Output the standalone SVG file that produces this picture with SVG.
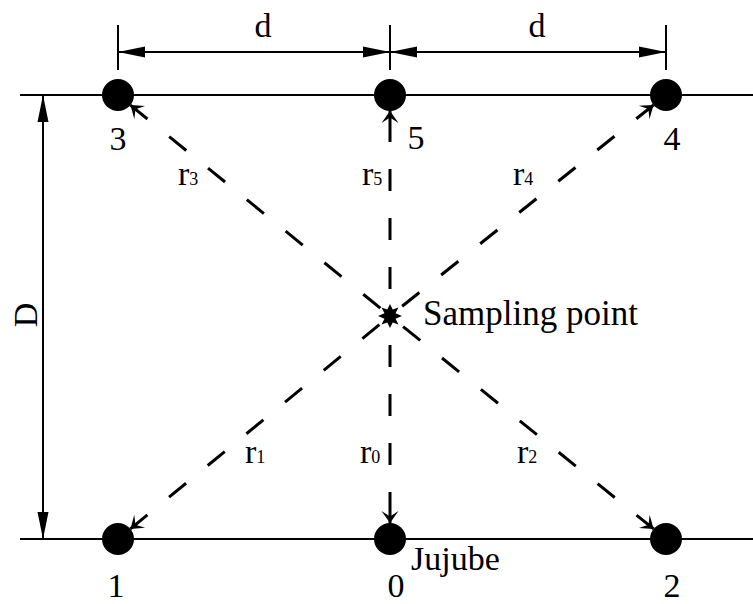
<svg xmlns="http://www.w3.org/2000/svg" width="753" height="604" viewBox="0 0 753 604" font-family="'Liberation Serif', 'DejaVu Serif', serif">
<style>
text{font-family:'Liberation Serif','DejaVu Serif',serif;font-size:34px;fill:#000}
.s{font-size:18px}
.ln{stroke:#000;stroke-width:2;fill:none}
.dim{stroke:#000;stroke-width:2;fill:none;marker-start:url(#da);marker-end:url(#da)}
.dash{stroke:#000;stroke-width:3;fill:none;marker-start:url(#ah);stroke-dasharray:22 28}
.dashv{stroke:#000;stroke-width:3;fill:none;marker-start:url(#ah);stroke-dasharray:31 27 22 27 22 27 22 27 22 27}
.dot{fill:#000}
</style>
<defs>
<marker id="da" markerUnits="userSpaceOnUse" markerWidth="30" markerHeight="14" viewBox="-28 -7 30 14" refX="0" refY="0" orient="auto-start-reverse" overflow="visible">
<path d="M0,0 L-27,-5.5 L-27,5.5 Z" fill="#000"/>
</marker>
<marker id="ah" markerUnits="userSpaceOnUse" markerWidth="14" markerHeight="20" viewBox="-12 -10 14 20" refX="0" refY="0" orient="auto-start-reverse" overflow="visible">
<path d="M0,0 L-12,-8.5 L-6.5,0 L-12,8.5 Z" fill="#000"/>
</marker>
</defs>

<g id="rows">
<line class="ln" x1="20" y1="95" x2="753" y2="95"/>
<line class="ln" x1="20" y1="539" x2="753" y2="539"/>
</g>

<g id="dimensions">
<line class="ln" x1="118" y1="25" x2="118" y2="70"/>
<line class="ln" x1="390" y1="25" x2="390" y2="70"/>
<line class="ln" x1="666" y1="25" x2="666" y2="70"/>
<line class="dim" x1="118" y1="52" x2="390" y2="52"/>
<line class="dim" x1="390" y1="52" x2="666" y2="52"/>
<line class="dim" x1="43" y1="95" x2="43" y2="539"/>
<text x="263" y="37" text-anchor="middle">d</text>
<text x="537" y="37" text-anchor="middle">d</text>
<text transform="translate(37,315) rotate(-90)" text-anchor="middle">D</text>
</g>

<g id="connectors">
<path class="dash" d="M130.4,105.1 L390,316"/>
<path class="dash" d="M653.5,105 L390,316"/>
<path class="dash" d="M130.4,528.9 L390,316"/>
<path class="dash" d="M653.6,528.9 L390,316"/>
<path class="dashv" d="M390,111 L390,316"/>
<path class="dashv" d="M390,523 L390,316"/>
</g>

<g id="tree3"><circle class="dot" cx="118" cy="95" r="16"/><text x="118" y="150" text-anchor="middle">3</text></g>
<g id="tree5"><circle class="dot" cx="390" cy="95" r="16"/><text x="416" y="149" text-anchor="middle">5</text></g>
<g id="tree4"><circle class="dot" cx="666" cy="95" r="16"/><text x="672" y="150" text-anchor="middle">4</text></g>
<g id="tree1"><circle class="dot" cx="118" cy="539" r="16"/><text x="116" y="597" text-anchor="middle">1</text></g>
<g id="tree0"><circle class="dot" cx="390" cy="539" r="16"/><text x="396" y="597" text-anchor="middle">0</text><text x="411" y="570">Jujube</text></g>
<g id="tree2"><circle class="dot" cx="666" cy="539" r="16"/><text x="672" y="597" text-anchor="middle">2</text></g>

<g id="sampling-point">
<polygon fill="#000" points="402,316 395.5,318.7 398.5,324.5 392.7,322.5 390,328 387.3,322.5 381.5,324.5 384.5,318.7 378,316 384.5,313.3 381.5,307.5 387.3,309.5 390,304 392.7,309.5 398.5,307.5 395.5,313.3"/>
<text x="423" y="325" style="font-size:35px">Sampling point</text>
</g>

<g id="labels">
<text x="178" y="185">r<tspan class="s">3</tspan></text>
<text x="362" y="185">r<tspan class="s">5</tspan></text>
<text x="513" y="185">r<tspan class="s">4</tspan></text>
<text x="245" y="463">r<tspan class="s">1</tspan></text>
<text x="360" y="463">r<tspan class="s">0</tspan></text>
<text x="517" y="463">r<tspan class="s">2</tspan></text>
</g>
</svg>
